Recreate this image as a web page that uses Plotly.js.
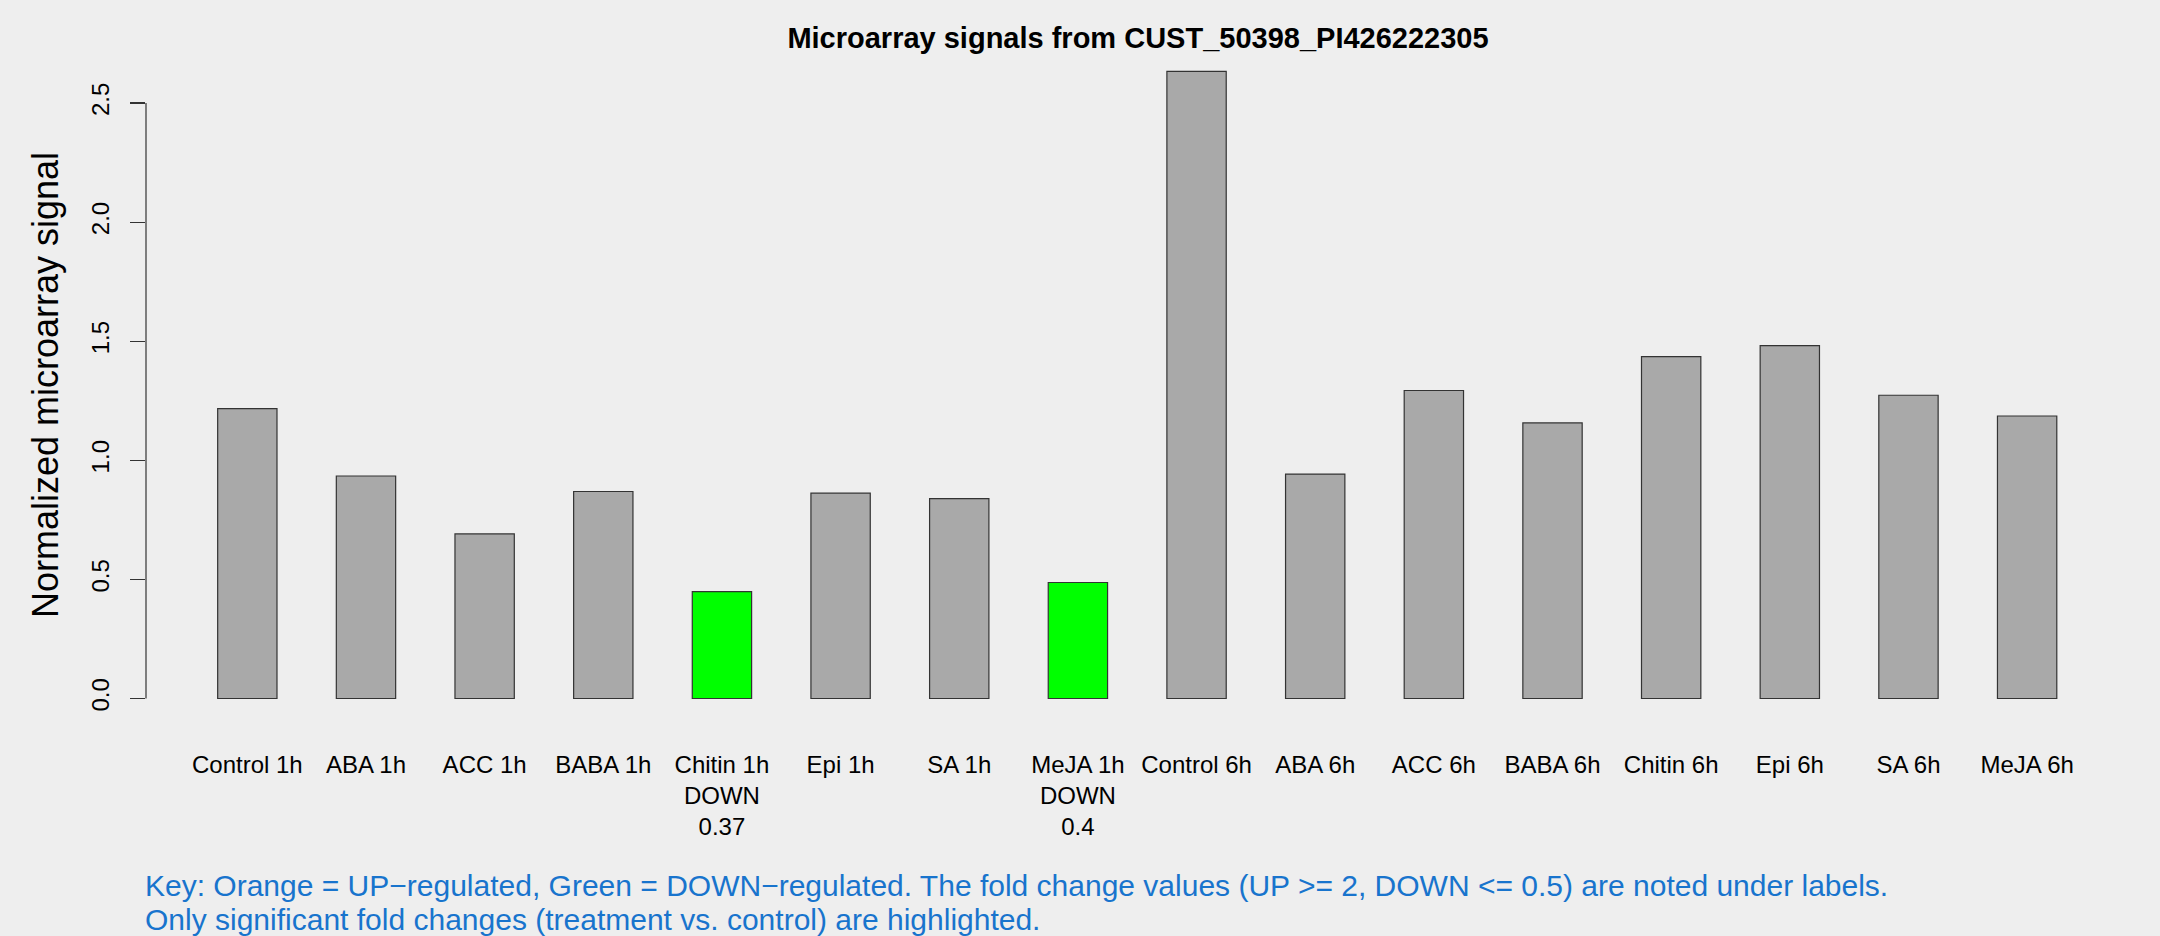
<!DOCTYPE html>
<html>
<head>
<meta charset="utf-8">
<script src="https://cdn.plot.ly/plotly-3.0.1.min.js"></script>
<style>html,body{margin:0;padding:0;background:#EEEEEE;}</style>
</head>
<body>
<div id="chart" style="width:2160px;height:936px;"></div>
<script>
var categories = ["Control 1h","ABA 1h","ACC 1h","BABA 1h","Chitin 1h","Epi 1h","SA 1h","MeJA 1h",
                  "Control 6h","ABA 6h","ACC 6h","BABA 6h","Chitin 6h","Epi 6h","SA 6h","MeJA 6h"];
var signals = [1.217,0.934,0.691,0.869,0.449,0.862,0.839,0.487,
               2.633,0.942,1.293,1.157,1.435,1.481,1.273,1.186];
var regulation = ["","","","","DOWN","","","DOWN","","","","","","","",""];
var foldChange = ["","","","","0.37","","","0.4","","","","","","","",""];
var yTicks = [0,0.5,1.0,1.5,2.0,2.5];
var titleText = "Microarray signals from CUST_50398_PI426222305";
var yTitle = "Normalized microarray signal";
var keyLines = ["Key: Orange = UP\u2212regulated, Green = DOWN\u2212regulated. The fold change values (UP >= 2, DOWN <= 0.5) are noted under labels.",
                "Only significant fold changes (treatment vs. control) are highlighted."];

var positions = categories.map(function(_, i){ return i; });
var colors = regulation.map(function(r){ return r === "DOWN" ? "#00FF00" : (r === "UP" ? "#FFA500" : "#A9A9A9"); });
var tickText = categories.map(function(c, i){
  return regulation[i] ? c + "<br>" + regulation[i] + "<br>" + foldChange[i] : c;
});

var font = "Liberation Sans, Arial, Helvetica, sans-serif";
var W = 2160, H = 936, mL = 146, mR = 30, mT = 46, mB = 212;
var plotH = H - mT - mB;

var trace = {
  type: "bar",
  x: positions,
  y: signals,
  width: 0.5,
  marker: {color: colors, line: {color: "#333333", width: 1.2}},
  hoverinfo: "x+y"
};

var layout = {
  width: W, height: H,
  paper_bgcolor: "#EEEEEE", plot_bgcolor: "#EEEEEE",
  margin: {l: mL, r: mR, t: mT, b: mB, pad: 0},
  showlegend: false,
  font: {family: font, color: "#000000", size: 24},
  title: {text: "<b>" + titleText + "</b>", font: {family: font, size: 29, color: "#000"},
          x: 0.5, xref: "paper", xanchor: "center", y: 1 - 38 / H, yref: "container", yanchor: "middle"},
  xaxis: {
    range: [-0.854, 15.867], tickvals: positions, ticktext: tickText,
    showline: false, zeroline: false, showgrid: false, ticks: "",
    tickfont: {size: 24}, ticklabelstandoff: 24, fixedrange: true
  },
  yaxis: {
    range: [-0.1071, 2.7393], tickvals: yTicks, ticktext: yTicks.map(function(v){ return v.toFixed(1); }),
    tickangle: -90, ticks: "outside", ticklen: 15, tickcolor: "#333333", tickwidth: 1.2,
    showline: false, zeroline: false, showgrid: false,
    tickfont: {size: 24}, ticklabelstandoff: 11,
    title: {text: yTitle, font: {size: 36}, standoff: 17}
  },
  shapes: [{type: "line", xref: "paper", yref: "y", x0: 0, x1: 0, y0: yTicks[0], y1: yTicks[yTicks.length - 1],
            line: {color: "#333333", width: 1.2}}],
  annotations: keyLines.map(function(t, i){
    return {text: t, xref: "paper", yref: "paper", x: 0, xanchor: "left", xshift: -3,
            y: (H - mB - (885 + 34 * i)) / plotH, yanchor: "middle", showarrow: false,
            font: {family: font, size: 30, color: "#1874CD"}, align: "left"};
  })
};

Plotly.newPlot("chart", [trace], layout, {displayModeBar: false, staticPlot: true});
</script>
</body>
</html>
